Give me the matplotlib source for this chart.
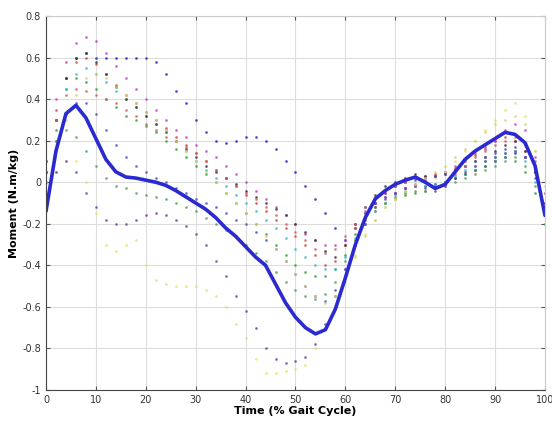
import numpy as np
import matplotlib
matplotlib.use('Agg')
import matplotlib.pyplot as plt

gait = np.arange(0, 101, 2)

# mean curve (solid blue)
mean_moment = [-0.14, 0.15, 0.33, 0.37, 0.31, 0.21, 0.11, 0.05, 0.025, 0.02, 0.01,
               0.0, -0.015, -0.04, -0.07, -0.10, -0.13, -0.17, -0.22, -0.26, -0.31,
               -0.36, -0.40, -0.49, -0.58, -0.65, -0.70, -0.73, -0.71, -0.61, -0.46,
               -0.30, -0.17, -0.08, -0.04, -0.01, 0.01, 0.025, 0.0, -0.03, -0.01,
               0.05, 0.11, 0.15, 0.18, 0.21, 0.24, 0.23, 0.19, 0.08, -0.16]

# individual trials (dotted)
trial_a = [0.05, 0.3, 0.5, 0.6, 0.62, 0.6, 0.6, 0.6, 0.6, 0.6, 0.6,
           0.58, 0.52, 0.44, 0.38, 0.3, 0.24, 0.2, 0.19, 0.2, 0.22,
           0.22, 0.2, 0.16, 0.1, 0.05, -0.02, -0.08, -0.15, -0.22, -0.28,
           -0.22, -0.15, -0.1, -0.07, -0.05, -0.03, -0.02, -0.02, -0.01, 0.0,
           0.02, 0.04, 0.06, 0.08, 0.1, 0.12, 0.14, 0.12, 0.05, -0.1]
trial_b = [0.0, 0.05, 0.1, 0.1, 0.0, -0.15, -0.3, -0.33, -0.3, -0.28, -0.4,
           -0.47, -0.49, -0.5, -0.5, -0.5, -0.52, -0.55, -0.6, -0.68, -0.75,
           -0.85, -0.92, -0.92, -0.91, -0.9, -0.88, -0.8, -0.7, -0.55, -0.45,
           -0.35, -0.25, -0.18, -0.12, -0.08, -0.05, -0.02, 0.0, 0.02, 0.05,
           0.1, 0.15, 0.2, 0.25, 0.3, 0.35, 0.38, 0.32, 0.15, -0.1]
trial_c = [-0.05, 0.05, 0.1, 0.05, -0.05, -0.12, -0.18, -0.2, -0.2, -0.18, -0.16,
           -0.15, -0.16, -0.18, -0.21, -0.25, -0.3, -0.38, -0.45, -0.55, -0.62,
           -0.7, -0.8, -0.85, -0.87, -0.86, -0.84, -0.78, -0.68, -0.55, -0.42,
           -0.3, -0.2, -0.12, -0.08, -0.05, -0.03, -0.02, -0.03, -0.04, -0.02,
           0.02, 0.05, 0.08, 0.1, 0.12, 0.14, 0.15, 0.12, 0.05, -0.1]
trial_e = [0.1, 0.35, 0.5, 0.58, 0.6, 0.57, 0.52, 0.47, 0.42, 0.38, 0.34,
           0.3, 0.26, 0.22, 0.18, 0.14, 0.1, 0.06, 0.02, -0.02, -0.06,
           -0.1, -0.14, -0.18, -0.22, -0.26, -0.3, -0.35, -0.4, -0.38, -0.3,
           -0.22, -0.15, -0.1, -0.05, -0.02, 0.0, 0.02, 0.03, 0.04, 0.05,
           0.07, 0.1, 0.13, 0.16, 0.2, 0.22, 0.2, 0.15, 0.05, -0.12]
trial_f = [0.0, 0.25, 0.45, 0.5, 0.48, 0.45, 0.4, 0.36, 0.32, 0.3, 0.27,
           0.24, 0.2, 0.16, 0.12, 0.08, 0.04, 0.0, -0.05, -0.1, -0.15,
           -0.2, -0.25, -0.3, -0.35, -0.4, -0.43, -0.45, -0.45, -0.42, -0.35,
           -0.25, -0.17, -0.12, -0.1, -0.08, -0.06, -0.05, -0.04, -0.02, 0.0,
           0.02, 0.04, 0.06, 0.08, 0.1, 0.12, 0.1, 0.05, -0.05, -0.2]
trial_g = [0.05, 0.3, 0.45, 0.52, 0.55, 0.52, 0.48, 0.44, 0.4, 0.36, 0.32,
           0.28, 0.25, 0.2, 0.15, 0.1, 0.06, 0.02, -0.02, -0.06, -0.1,
           -0.14, -0.18, -0.22, -0.27, -0.32, -0.36, -0.4, -0.42, -0.42, -0.36,
           -0.27, -0.2, -0.14, -0.1, -0.06, -0.04, -0.02, -0.02, -0.01, 0.0,
           0.03, 0.06, 0.08, 0.1, 0.12, 0.14, 0.15, 0.1, 0.0, -0.15]
trial_h = [0.1, 0.4, 0.58, 0.67, 0.7, 0.68, 0.62, 0.56, 0.5, 0.45, 0.4,
           0.35, 0.3, 0.25, 0.22, 0.18, 0.15, 0.12, 0.08, 0.04, 0.0,
           -0.04, -0.08, -0.12, -0.16, -0.2, -0.25, -0.28, -0.3, -0.3, -0.28,
           -0.2, -0.14, -0.1, -0.07, -0.05, -0.03, -0.01, 0.01, 0.03, 0.05,
           0.08, 0.11, 0.14, 0.17, 0.2, 0.25, 0.28, 0.25, 0.12, -0.05]
trial_i = [0.05, 0.3, 0.5, 0.6, 0.62, 0.58, 0.52, 0.46, 0.4, 0.36, 0.32,
           0.28, 0.24, 0.2, 0.16, 0.12, 0.08, 0.05, 0.02, -0.01, -0.04,
           -0.07, -0.1, -0.13, -0.16, -0.2, -0.24, -0.28, -0.33, -0.36, -0.3,
           -0.2, -0.12, -0.06, -0.02, 0.0, 0.02, 0.04, 0.03, 0.03, 0.04,
           0.06, 0.08, 0.1, 0.12, 0.15, 0.18, 0.2, 0.15, 0.05, -0.1]
trial_j = [0.0, 0.2, 0.33, 0.38, 0.38, 0.33, 0.25, 0.18, 0.12, 0.08, 0.05,
           0.02, 0.0, -0.03, -0.05, -0.08, -0.1, -0.12, -0.15, -0.18, -0.2,
           -0.24, -0.28, -0.32, -0.38, -0.44, -0.5, -0.55, -0.57, -0.52, -0.42,
           -0.3, -0.18, -0.1, -0.05, -0.02, 0.0, 0.01, 0.02, 0.03, 0.04,
           0.06, 0.08, 0.1, 0.12, 0.14, 0.16, 0.17, 0.12, 0.02, -0.15]
trial_k = [0.05, 0.2, 0.25, 0.22, 0.15, 0.08, 0.02, -0.02, -0.03, -0.05, -0.06,
           -0.07, -0.08, -0.1, -0.12, -0.14, -0.17, -0.2, -0.23, -0.26, -0.3,
           -0.34, -0.38, -0.43, -0.48, -0.52, -0.55, -0.56, -0.54, -0.48, -0.38,
           -0.28, -0.2, -0.14, -0.1, -0.07, -0.05, -0.04, -0.04, -0.03, -0.02,
           0.0, 0.02, 0.04, 0.06, 0.08, 0.1, 0.12, 0.08, -0.02, -0.2]
trial_l = [0.1, 0.3, 0.42, 0.45, 0.44, 0.42, 0.4, 0.38, 0.35, 0.32, 0.28,
           0.25, 0.22, 0.2, 0.17, 0.14, 0.1, 0.06, 0.02, -0.02, -0.05,
           -0.08, -0.12, -0.16, -0.2, -0.24, -0.28, -0.32, -0.34, -0.32, -0.26,
           -0.2, -0.12, -0.07, -0.04, -0.02, 0.0, 0.02, 0.0, -0.02, 0.0,
           0.04, 0.08, 0.12, 0.15, 0.18, 0.2, 0.22, 0.18, 0.1, -0.05]
trial_n = [0.0, 0.15, 0.3, 0.42, 0.5, 0.52, 0.5, 0.46, 0.42, 0.38, 0.34,
           0.3, 0.25, 0.2, 0.15, 0.1, 0.05, 0.0, -0.05, -0.1, -0.15,
           -0.2, -0.26, -0.32, -0.38, -0.44, -0.5, -0.55, -0.58, -0.55, -0.48,
           -0.36, -0.26, -0.18, -0.12, -0.08, -0.04, -0.01, 0.02, 0.05, 0.08,
           0.12, 0.16, 0.2, 0.24, 0.28, 0.3, 0.32, 0.28, 0.15, -0.02]

trials = [trial_a, trial_e, trial_f, trial_g, trial_h, trial_b,
          trial_i, trial_j, trial_k, trial_l, trial_c, trial_n]
trial_colors = ['#1f1fbf', '#d94040', '#33a033', '#33bbcc', '#c040c0', '#e8e060',
                '#303030', '#4a4ad0', '#5a9a5a', '#c86060', '#7040a0', '#d8d070']

fig = plt.figure(figsize=(5.52, 4.28), dpi=100)
ax = fig.add_axes([0.0833, 0.0888, 0.904, 0.8738])

for vals, col in zip(trials, trial_colors):
    ax.plot(gait, vals, linestyle='none', marker='.', markersize=2.2,
            color=col, alpha=0.6)

ax.plot(gait, mean_moment, color='#2a2ad0', linewidth=2.6, solid_capstyle='round')

ax.set_xlim(0, 100)
ax.set_ylim(-1, 0.8)
ax.set_xticks(np.arange(0, 101, 10))
ax.set_yticks(np.arange(-1, 0.81, 0.2))
ax.set_yticklabels(['-1', '-0.8', '-0.6', '-0.4', '-0.2', '0', '0.2', '0.4', '0.6', '0.8'])
ax.tick_params(direction='in', length=3, labelsize=7, colors='#555555',
               top=True, right=True)
for lbl in ax.get_xticklabels() + ax.get_yticklabels():
    lbl.set_color('#333333')
ax.grid(True, color='#dddddd', linewidth=0.8)
for side in ['top', 'right']:
    ax.spines[side].set_color('#cccccc')
for side in ['left', 'bottom']:
    ax.spines[side].set_color('#444444')

ax.set_xlabel('Time (% Gait Cycle)', fontsize=8, fontweight='bold', labelpad=1)
ax.set_ylabel('Moment (N.m/kg)', fontsize=8, fontweight='bold', labelpad=2)

fig.savefig('out.png', dpi=100)
